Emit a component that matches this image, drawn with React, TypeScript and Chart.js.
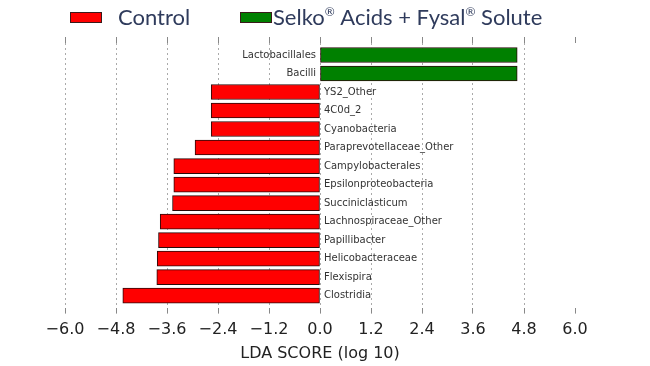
import { useEffect, useRef } from 'react';
import { Chart, registerables } from 'chart.js';

Chart.register(...registerables);

const TAXA = [
  'Lactobacillales',
  'Bacilli',
  'YS2_Other',
  '4C0d_2',
  'Cyanobacteria',
  'Paraprevotellaceae_Other',
  'Campylobacterales',
  'Epsilonproteobacteria',
  'Succiniclasticum',
  'Lachnospiraceae_Other',
  'Papillibacter',
  'Helicobacteraceae',
  'Flexispira',
  'Clostridia',
];
const LDA_SCORES = [4.64, 4.64, -2.56, -2.56, -2.56, -2.94, -3.44, -3.44, -3.47, -3.76, -3.8, -3.83, -3.84, -4.64];
const GROUPS = ['Control', 'Selko® Acids + Fysal® Solute'];
const GROUP_COLORS = ['#ff0000', '#008000'];
const X_TICKS = [-6, -4.8, -3.6, -2.4, -1.2, 0, 1.2, 2.4, 3.6, 4.8, 6];
const X_TITLE = 'LDA SCORE (log 10)';

const fmt = (v: number) => {
  const s = Math.abs(v).toFixed(1);
  return v < -1e-9 ? '\u2212' + s : s;
};

const labelPlugin = {
  id: 'taxaLabels',
  afterDatasetsDraw(chart: any) {
    const { ctx, scales } = chart;
    const x0 = scales.x.getPixelForValue(0);
    ctx.save();
    ctx.font = '10px "DejaVu Sans"';
    ctx.fillStyle = '#333';
    ctx.textBaseline = 'middle';
    TAXA.forEach((name, i) => {
      const y = scales.y.getPixelForValue(i);
      if (LDA_SCORES[i] > 0) {
        ctx.textAlign = 'right';
        ctx.fillText(name, x0 - 4, y);
      } else {
        ctx.textAlign = 'left';
        ctx.fillText(name, x0 + 4, y);
      }
    });
    ctx.restore();
  },
};

const drawRich = (ctx: CanvasRenderingContext2D, text: string, x: number, y: number) => {
  const parts = text.split('®');
  let cx = x;
  parts.forEach((p, idx) => {
    ctx.font = '22px Lato';
    ctx.fillText(p, cx, y);
    cx += ctx.measureText(p).width;
    if (idx < parts.length - 1) {
      ctx.font = '12px Lato';
      ctx.fillText('®', cx, y - 6);
      cx += ctx.measureText('®').width;
    }
  });
};

const legendPlugin = {
  id: 'customLegend',
  afterDraw(chart: any) {
    const { ctx } = chart;
    ctx.save();
    ctx.textBaseline = 'middle';
    ctx.textAlign = 'left';
    const boxes = [70, 240];
    const texts = [118, 273];
    GROUPS.forEach((g, i) => {
      ctx.fillStyle = GROUP_COLORS[i];
      ctx.fillRect(boxes[i], 12, 32, 11);
      ctx.strokeStyle = '#3a1a1a';
      ctx.lineWidth = 1;
      ctx.strokeRect(boxes[i] + 0.5, 12.5, 31, 10);
      ctx.fillStyle = '#2f3b5c';
      drawRich(ctx, g, texts[i], 18);
    });
    ctx.restore();
  },
};

export default function App() {
  const ref = useRef<HTMLCanvasElement>(null);
  useEffect(() => {
    if (!ref.current) return;
    const datasets = GROUPS.map((g, gi) => ({
      label: g,
      data: LDA_SCORES.map((v, i) => ({ x: v, y: i })).filter((p) => (gi === 0 ? p.x < 0 : p.x > 0)),
      backgroundColor: GROUP_COLORS[gi],
      borderColor: '#2a0a0a',
      borderWidth: 1,
      borderSkipped: false,
      barThickness: 15,
      grouped: false,
    }));
    const chart = new Chart(ref.current, {
      type: 'bar',
      data: { datasets: datasets as any },
      plugins: [labelPlugin, legendPlugin],
      options: {
        indexAxis: 'y',
        animation: false,
        responsive: false,
        layout: { padding: { left: 65, right: 75, top: 37, bottom: 3 } },
        plugins: { legend: { display: false }, tooltip: { enabled: false } },
        scales: {
          y: {
            type: 'linear',
            min: -0.65,
            max: 13.65,
            reverse: true,
            offset: false,
            grace: 0,
            display: false,
          },
          x: {
            type: 'linear',
            position: 'bottom',
            min: -6,
            max: 6,
            afterBuildTicks: (s: any) => {
              s.ticks = X_TICKS.map((v) => ({ value: v }));
            },
            ticks: {
              font: { family: 'DejaVu Sans', size: 16 },
              color: '#222',
              padding: 7,
              autoSkip: false,
              maxRotation: 0,
              callback: (v: any) => fmt(Number(v)),
            },
            grid: {
              color: (c: any) => (c.tick && Math.abs(c.tick.value - 6) < 1e-6 ? 'rgba(0,0,0,0)' : '#aaa'),
              tickColor: '#888',
              tickLength: 6,
              tickBorderDash: [],
            },
            border: { display: false, dash: [2, 3] },
            title: {
              display: true,
              text: X_TITLE,
              font: { family: 'DejaVu Sans', size: 16 },
              color: '#222',
              padding: { top: -3, bottom: 0 },
            },
          },
          x2: {
            type: 'linear',
            position: 'top',
            min: -6,
            max: 6,
            afterBuildTicks: (s: any) => {
              s.ticks = X_TICKS.map((v) => ({ value: v }));
            },
            ticks: { display: false },
            grid: { drawOnChartArea: false, tickColor: '#888', tickLength: 6, tickBorderDash: [] },
            border: { display: false },
          },
        },
      } as any,
    });
    return () => chart.destroy();
  }, []);
  return (
    <div style={{ position: 'fixed', left: 0, top: 0, width: 650, height: 366, background: '#fff' }}>
      <canvas ref={ref} width={650} height={366} style={{ display: 'block' }} />
    </div>
  );
}
